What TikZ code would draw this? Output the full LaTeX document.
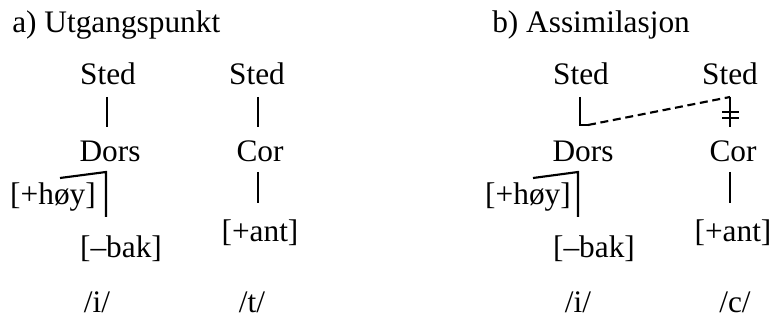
\documentclass[tikz,border=0pt]{standalone}
\usepackage{fontspec}
\setmainfont{Liberation Serif}
\usetikzlibrary{positioning}
\begin{document}
\begin{tikzpicture}[x=0.75pt,y=-0.75pt,
  every node/.style={font=\rmfamily\fontsize{23.5}{27}\selectfont,inner sep=0pt,anchor=base},
  ln/.style={line width=1.6pt},
  dln/.style={line width=1.6pt,dash pattern=on 6pt off 3.5pt}]
\useasboundingbox (0,0) rectangle (772,324);
% a) utgangspunkt
\node[anchor=base west] (tA) at (12,33) {a) Utgangspunkt};
\node (stedA) at (108,85) {Sted};
\node (dorsA) at (110,162) {Dors};
\node (hoyA) at (53,205) {[+høy]};
\node (bakA) at (121,258) {[–bak]};
\node (stedAA) at (257,85) {Sted};
\node (corA) at (260,162) {Cor};
\node (antA) at (260,242) {[+ant]};
\node (iA) at (97,313) {/i/};
\node (tt) at (252,313) {/t/};
\draw[ln] (stedA.base) ++(-1,12) -- ++(0,30);
\draw[ln] (dorsA.base) ++(-50,16) -- ++(46,-6) -- ++(0,45);
\draw[ln] (stedAA.base) ++(1,12) -- ++(0,30);
\draw[ln] (corA.base) ++(-2,10) -- ++(0,31);
% b) assimilasjon
\node[anchor=base west] (tB) at (492,33) {b) Assimilasjon};
\node (stedB) at (581,85) {Sted};
\node (dorsB) at (583,162) {Dors};
\node (hoyB) at (528,205) {[+høy]};
\node (bakB) at (594,258) {[–bak]};
\node (stedBB) at (730,85) {Sted};
\node (corB) at (733,162) {Cor};
\node (antB) at (733,242) {[+ant]};
\node (iB) at (578,313) {/i/};
\node (cB) at (735,313) {/c/};
\draw[ln] (stedB.base) ++(-1,12) -- ++(0,28) coordinate (foot) -- ++(8,0) coordinate (footr);
\draw[ln] (stedBB.base) ++(0,12) coordinate (top) -- ++(0,30);
\draw[dln] (footr) -- (top);
\draw[ln] (top) ++(-8,15) -- ++(17,0);
\draw[ln] (top) ++(-8,21) -- ++(17,0);
\draw[ln] (dorsB.base) ++(-50,16) -- ++(45,-6) -- ++(0,45);
\draw[ln] (corB.base) ++(-3,10) -- ++(0,31);
\end{tikzpicture}
\end{document}
